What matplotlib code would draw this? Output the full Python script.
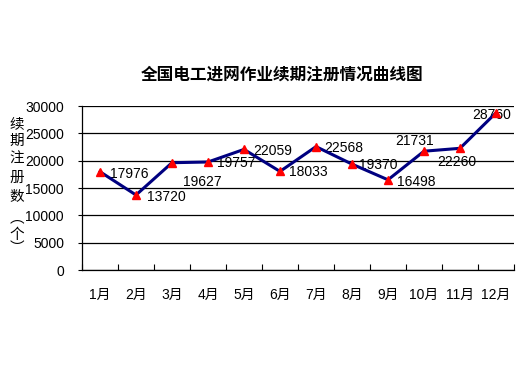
"""Curve chart of renewal registrations by month."""
import matplotlib
matplotlib.use("Agg")
import matplotlib.pyplot as plt
import numpy as np

FONTS = ["Liberation Sans", "Noto Sans CJK SC", "DejaVu Sans"]
plt.rcParams["font.family"] = FONTS

months = ["1月", "2月", "3月", "4月", "5月", "6月", "7月", "8月", "9月", "10月", "11月", "12月"]
counts = [17976, 13720, 19627, 19757, 22059, 18033, 22568, 19370, 16498, 21731, 22260, 28760]
title = "全国电工进网作业续期注册情况曲线图"
ylabel_chars = ["续", "期", "注", "册", "数", "︵", "个", "︶"]

# label offsets in pixels (dx, dy), centred text
label_offsets = [(29, -2), (30, -2), (30, -19), (28, -1), (29, -2), (28, -1),
                 (28, -1), (26, -1), (28, -2), (-9, 10), (-3, -14), (-4, -2)]

fig = plt.figure(figsize=(5.24, 3.66), dpi=100)
ax = fig.add_axes([82 / 524, 1 - 270 / 366, 432 / 524, 164 / 366])

x = np.arange(len(months))
ax.plot(x, counts, "-", color="#000080", lw=2.2, zorder=3)
ax.plot(x, counts, "^", color="#ff0000", ms=5.5, zorder=4)

for xi, v, (dx, dy) in zip(x, counts, label_offsets):
    ax.annotate(str(v), (xi, v), xytext=(dx, dy), textcoords="offset pixels",
                ha="center", va="center", fontsize=10, color="#000000", zorder=2)

ax.set_xlim(-0.5, 11.5)
ax.set_ylim(0, 30000)
ax.set_yticks(np.arange(0, 30001, 5000))
ax.set_yticklabels([str(v) for v in range(0, 30001, 5000)], fontsize=10)
ax.yaxis.grid(True, color="#000000", lw=0.9)
ax.set_axisbelow(True)
ax.tick_params(axis="y", length=3, width=0.8, pad=10)

ax.set_xticks(x)
ax.set_xticklabels(months, fontsize=10)
ax.set_xticks(np.arange(-0.5, 12, 1), minor=True)
ax.tick_params(axis="x", which="major", length=0, pad=13)
ax.tick_params(axis="x", which="minor", direction="in", length=4, width=0.8)

for s in ["right", "top"]:
    ax.spines[s].set_visible(False)
for s in ["left", "bottom"]:
    ax.spines[s].set_linewidth(0.9)

fig.text(282 / 524, 1 - 75 / 366, title, ha="center", va="center",
         fontsize=12, weight="bold", family=["Noto Sans CJK SC", "DejaVu Sans"])

char_y = [124, 141, 159, 178, 197, 218, 235, 248]
for ch, yy in zip(ylabel_chars, char_y):
    fig.text(17 / 524, 1 - yy / 366, ch, ha="center", va="center", fontsize=10.5,
             family=["Noto Sans CJK SC", "DejaVu Sans"])

fig.savefig("out.png", dpi=100)
